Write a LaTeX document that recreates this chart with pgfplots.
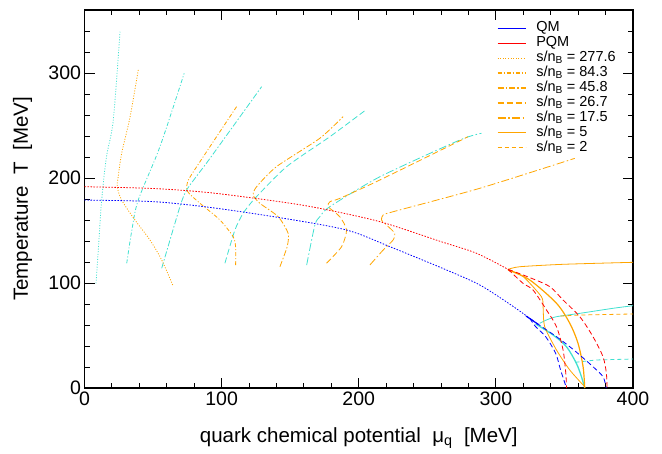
\documentclass[border=0pt]{standalone}
\usepackage{fontspec}
\setmainfont{Liberation Sans}
\usepackage{pgfplots}
\pgfplotsset{compat=1.18}

\definecolor{qmblue}{RGB}{0,0,255}
\definecolor{pqmred}{RGB}{255,0,0}
\definecolor{isoorange}{RGB}{255,165,0}
\definecolor{isoturq}{RGB}{64,224,208}

% line styles of the isentropes, one per s/n_B
\tikzset{
  s277/.style={dash pattern=on 1pt off 1.6pt},
  s84/.style={dash pattern=on 4pt off 2pt on 1pt off 2pt},
  s45/.style={dash pattern=on 6pt off 2pt on 1.5pt off 2pt},
  s26/.style={dash pattern=on 6pt off 3pt},
  s17/.style={dash pattern=on 8pt off 2.5pt on 1.5pt off 2.5pt},
  s5/.style={solid},
  s2/.style={dash pattern=on 4pt off 3pt},
}

\begin{document}
\begin{tikzpicture}
\path[use as bounding box] (-84.5pt,-65pt) rectangle (577.5pt,388pt);
\begin{axis}[
  at={(0pt,0pt)}, anchor=south west,
  scale only axis, width=548.5pt, height=378pt,
  xmin=0, xmax=400, ymin=0, ymax=360,
  xtick={0,100,...,400}, ytick={0,100,...,300},
  minor xtick={0,20,...,400}, minor ytick={0,20,...,360},
  tick pos=both, tick align=inside,
  major tick length=10pt, minor tick length=5pt,
  every tick/.style={black, line width=0.9pt},
  axis line style={line width=1.2pt},
  /pgf/number format/assume math mode=true,
  tick label style={font=\fontsize{19.5}{21}\selectfont},
  xlabel={quark chemical potential\ \ μ\textsubscript{q}\ \ [MeV]},
  ylabel={Temperature\ \ T\ \ [MeV]},
  label style={font=\fontsize{20.5}{22}\selectfont},
  xlabel style={at={(axis description cs:0.5,0)}, anchor=center, yshift=-50pt},
  ylabel style={at={(axis description cs:-0.113,0.5)}, anchor=center},
  legend style={draw=none, fill=none, at={(rel axis cs:0.7515,0.969)}, anchor=north west,
    font=\fontsize{14.5}{15}\selectfont, inner sep=0pt, row sep=1.9pt, column sep=10pt,
    nodes={inner sep=0pt, text height=10pt, text depth=3pt}},
  legend cell align=left,
  legend image code/.code={\draw[line width=1.4pt,#1] (0pt,0pt) -- (28pt,0pt);},
  every axis plot/.append style={line width=0.8pt},
]
% legend entries
\addlegendimage{qmblue, solid}
\addlegendentry{QM}
\addlegendimage{pqmred, solid}
\addlegendentry{PQM}
\addlegendimage{isoorange, s277}
\addlegendentry{s/n\textsubscript{B} = 277.6}
\addlegendimage{isoorange, s84}
\addlegendentry{s/n\textsubscript{B} = 84.3}
\addlegendimage{isoorange, s45}
\addlegendentry{s/n\textsubscript{B} = 45.8}
\addlegendimage{isoorange, s26}
\addlegendentry{s/n\textsubscript{B} = 26.7}
\addlegendimage{isoorange, s17}
\addlegendentry{s/n\textsubscript{B} = 17.5}
\addlegendimage{isoorange, s5}
\addlegendentry{s/n\textsubscript{B} = 5}
\addlegendimage{isoorange, s2}
\addlegendentry{s/n\textsubscript{B} = 2}

% ---- QM isentropes (turquoise)
\addplot[forget plot, isoturq, s277, smooth] coordinates {
 (8.4,99.7) (10.5,140) (12.5,179) (16,220) (21,255.2) (25.9,339.3)};
\addplot[forget plot, isoturq, s84, smooth] coordinates {
 (30.8,118.8) (34.5,150) (39.2,179) (55,229.8) (72.7,299.7)};
\addplot[forget plot, isoturq, s45, smooth, tension=0.4] coordinates {
 (56.3,114) (69.6,172.7) (74.5,188.6) (84.2,206) (91.5,218.7) (129.2,287)};
\addplot[forget plot, isoturq, s26, smooth, tension=0.4] coordinates {
 (102.4,118.8) (109.7,150.5) (115.7,166.4) (124.3,180.6) (147.4,210.8) (178.9,239.3) (205.2,264.8)};
\addplot[forget plot, isoturq, s17, smooth, tension=0.4] coordinates {
 (162,117) (168,155.2) (171.6,163.1) (178.9,172.7) (215.4,201.2) (273.7,236.2) (289.5,242.6)};
\addplot[forget plot, isoturq, s5, smooth, tension=0.4] coordinates {
 (332,61.6) (336.9,64.8) (344.2,67.9) (361.2,71.1) (385.4,75.9) (400,78.4)};
\addplot[forget plot, isoturq, s2] coordinates {
 (358,24.5) (373.3,26.7) (400,27.6)};
\addplot[forget plot, isoturq, line width=1.3pt, smooth, tension=0.5] coordinates {
 (329,61) (341.7,50.5) (351.5,39.3) (358.7,23.5) (362.4,10.8) (364.8,0)};

% ---- PQM isentropes (orange)
\addplot[forget plot, isoorange, s277, smooth, tension=0.5] coordinates {
 (64.3,98.1) (56.3,121.9) (47.7,141) (36.8,160) (27.1,179) (23.9,191.7) (24.6,201.2) (27.1,223.5) (33.2,258) (39.2,302.9)};
\addplot[forget plot, isoorange, s84, smooth, tension=0.4] coordinates {
 (110.2,117) (110.2,134.6) (108.5,144) (98.8,160) (84.2,175.9) (76.5,185) (74.5,189.5) (75.7,198) (84.2,215.5) (110.9,267.9)};
\addplot[forget plot, isoorange, s45, smooth, tension=0.4] coordinates {
 (142.5,115.5) (147.8,134.6) (148.5,147.3) (141.3,163.1) (127.9,175.9) (123,183.8) (125.5,191.7) (140,210.8) (171.6,237.8) (188.6,258.4)};
\addplot[forget plot, isoorange, s26, smooth, tension=0.4] coordinates {
 (176.5,118.8) (187.5,134.6) (191.1,150.5) (186.2,163.1) (177.7,172.7) (179,177.4) (186.2,180.6) (215.4,198.1) (279.7,239.3)};
\addplot[forget plot, isoorange, s17, smooth, tension=0.4] coordinates {
 (208.1,117.1) (217.8,131.4) (225.1,141) (226.3,147.3) (220.3,155.2) (216.6,160) (217.8,164.8) (225.1,167.9) (288.3,190.2) (357.5,218.7)};
\addplot[forget plot, isoorange, s5, smooth, tension=0.4] coordinates {
 (308.9,113) (317.4,115.5) (349,117.8) (400,119.7)};
\addplot[forget plot, isoorange, s5, smooth, tension=0.4] coordinates {
 (308.9,113) (320,106) (333.2,87) (334.4,77.5) (335.6,58.4) (344.2,36.2) (353.9,17.1) (364.8,1.2)};
\addplot[forget plot, isoorange, line width=1.2pt, smooth, tension=0.5] coordinates {
 (308.9,112.4) (324.7,102.9) (344.2,80.7) (353.9,61.6) (359.9,42.6) (363.6,20.3) (364.8,0)};
\addplot[forget plot, isoorange, s2] coordinates {
 (347,68.5) (361.2,69.5) (400,70.5)};

% ---- QM phase boundary (blue)
\addplot[forget plot, qmblue, dash pattern=on 1.5pt off 1.5pt, smooth] coordinates {
 (0,179) (50,177.5) (91.5,172) (142.5,162.2) (191,150.5) (222.7,134.6) (264,112.4) (288.3,98.1) (310,80) (324.7,66.4)};
\addplot[forget plot, qmblue, dash pattern=on 5pt off 3pt, smooth, tension=0.5] coordinates {
 (324.7,66.4) (329,58.4) (336.3,48.9) (343.6,33) (347.2,17.1) (351.5,0)};
\addplot[forget plot, qmblue, dash pattern=on 5pt off 3pt, smooth, tension=0.5] coordinates {
 (324.7,66.4) (335,57) (344.2,48.9) (353.9,39.3) (361.2,31.4) (370.8,20.3) (378.1,10.8) (380.5,0)};
\addplot[forget plot, qmblue, line width=1.2pt] coordinates {
 (322,68.5) (331,60.5)};

% ---- PQM phase boundary (red)
\addplot[forget plot, pqmred, dash pattern=on 1.5pt off 1.5pt, smooth] coordinates {
 (0,191.7) (50,190) (91.5,186) (142.5,177.4) (171.6,171.1) (215.4,158.4) (260,139.4) (285.9,128.3) (308.9,113)};
\addplot[forget plot, pqmred, dash pattern=on 5pt off 3pt, smooth, tension=0.5] coordinates {
 (308.9,113) (319.8,99.7) (327.1,93.3) (336.9,74.3) (344.2,58.4) (349,36.2) (351,14) (351.5,0)};
\addplot[forget plot, pqmred, dash pattern=on 5pt off 3pt, smooth, tension=0.5] coordinates {
 (308.9,113) (325,105) (339.3,96.5) (349,83.8) (361.2,67.9) (370.8,48.9) (378.1,29.8) (380.6,14) (381,0)};
\end{axis}
\end{tikzpicture}
\end{document}
